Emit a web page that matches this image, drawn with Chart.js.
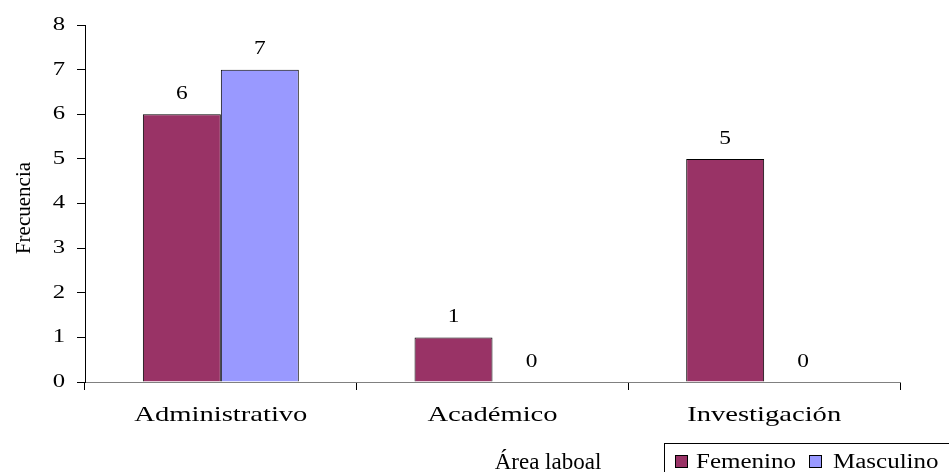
<!DOCTYPE html>
<html>
<head>
<meta charset="utf-8">
<script src="https://cdn.jsdelivr.net/npm/chart.js@4.4.1/dist/chart.umd.min.js"></script>
<style>
  html, body { margin: 0; padding: 0; background: #fff; overflow: hidden; }
  #wrap { width: 949px; height: 472px; position: relative; }
</style>
</head>
<body>
<div id="wrap"><canvas id="chart"></canvas></div>
<script>
// Data
const categories = ['Administrativo', 'Académico', 'Investigación'];
const seriesNames = ['Femenino', 'Masculino'];
const femenino = [6, 1, 5];
const masculino = [7, 0, 0];
const yMin = 0, yMax = 8, yStep = 1;
const xTitle = 'Área laboal';
const yTitle = 'Frecuencia';

// Styling
const SERIF = "'Liberation Serif', 'Times New Roman', serif";
const COLORS = ['#993366', '#9999FF'];
// Per font size: horizontal glyph widening and extra letter spacing (px)
const TEXT_LOOK = {
  18: { scale: 1.3, spacing: 0 },   // value labels
  19: { scale: 1.3, spacing: 0 },   // y ticks
  20: { scale: 1.25, spacing: 0 },  // legend
  22: { scale: 1.3, spacing: 0 },   // category labels
  21: { scale: 1.0, spacing: 0 },   // y title
  23: { scale: 1.0, spacing: 0 }    // x title
};

// Apply glyph widening / letter spacing to every text the chart draws
const textLook = {
  id: 'textLook',
  beforeInit(chart) {
    const ctx = chart.ctx;
    const orig = ctx.fillText.bind(ctx);
    ctx.fillText = function (text, x, y, maxWidth) {
      const m = /(\d+(?:\.\d+)?)px/.exec(ctx.font);
      const look = m ? TEXT_LOOK[Math.round(+m[1])] : null;
      if (!look) {
        return maxWidth === undefined ? orig(text, x, y) : orig(text, x, y, maxWidth);
      }
      const sp = look.spacing;
      let ax = x;
      if (sp) {
        if (ctx.textAlign === 'center') ax += sp / 2;
        else if (ctx.textAlign === 'right' || ctx.textAlign === 'end') ax += sp;
      }
      const t = ctx.getTransform();
      const px = t.a * ax + t.c * y + t.e;
      const py = t.b * ax + t.d * y + t.f;
      ctx.save();
      ctx.letterSpacing = sp + 'px';
      if (look.scale !== 1) {
        ctx.setTransform(new DOMMatrix().translate(px, py).scale(look.scale, 1).translate(-px, -py).multiply(t));
      }
      orig(text, ax, y);
      ctx.restore();
    };
  }
};

// Value labels above each bar
const valueLabels = {
  id: 'valueLabels',
  afterDatasetsDraw(chart) {
    const ctx = chart.ctx;
    ctx.save();
    ctx.font = `18px ${SERIF}`;
    ctx.fillStyle = '#000';
    ctx.textAlign = 'center';
    ctx.textBaseline = 'middle';
    chart.data.datasets.forEach((ds, i) => {
      chart.getDatasetMeta(i).data.forEach((bar, j) => {
        ctx.fillText(String(ds.data[j]), bar.x, bar.y - 20);
      });
    });
    ctx.restore();
  }
};

// Axis titles and the boxed legend in the lower right
const footer = {
  id: 'footer',
  afterDraw(chart) {
    const ctx = chart.ctx;
    ctx.save();
    ctx.fillStyle = '#000';

    // vertical axis title
    ctx.save();
    ctx.translate(24, 208);
    ctx.rotate(-Math.PI / 2);
    ctx.font = `21px ${SERIF}`;
    ctx.textAlign = 'center';
    ctx.textBaseline = 'middle';
    ctx.fillText(yTitle, 0, 0);
    ctx.restore();

    // horizontal axis title
    ctx.textBaseline = 'alphabetic';
    ctx.textAlign = 'center';
    ctx.font = `23px ${SERIF}`;
    ctx.fillText(xTitle, 548, 469);

    // legend frame
    ctx.strokeStyle = '#000';
    ctx.lineWidth = 1;
    ctx.strokeRect(664.5, 443.5, 320, 60);

    ctx.font = `20px ${SERIF}`;
    ctx.textAlign = 'left';
    const items = [
      { sq: 675, tx: 696 },
      { sq: 809, tx: 833 }
    ];
    chart.data.datasets.forEach((ds, i) => {
      const it = items[i];
      ctx.fillStyle = ds.backgroundColor;
      ctx.fillRect(it.sq + 0.5, 455.5, 12, 12);
      ctx.strokeRect(it.sq + 0.5, 455.5, 12, 12);
      ctx.fillStyle = '#000';
      ctx.fillText(ds.label, it.tx, 468);
    });
    ctx.restore();
  }
};

new Chart(document.getElementById('chart'), {
  type: 'bar',
  data: {
    labels: categories,
    datasets: [
      { label: seriesNames[0], data: femenino, backgroundColor: COLORS[0], borderColor: '#000', borderWidth: 1 },
      { label: seriesNames[1], data: masculino, backgroundColor: COLORS[1], borderColor: '#000', borderWidth: 1 }
    ]
  },
  options: {
    responsive: true,
    maintainAspectRatio: false,
    animation: false,
    devicePixelRatio: 1,
    layout: { padding: { left: 0, right: 49, top: 25, bottom: 0 } },
    datasets: { bar: { categoryPercentage: 0.574, barPercentage: 1.0 } },
    plugins: {
      legend: { display: false },
      tooltip: { enabled: false }
    },
    scales: {
      x: {
        afterFit(s) { s.height = 90; },
        border: { display: true, color: '#808080', width: 1 },
        grid: { display: true, drawOnChartArea: false, drawTicks: true, tickLength: 8, color: '#000', offset: true },
        ticks: {
          color: '#000',
          font: { family: SERIF, size: 22 },
          padding: 12,
          autoSkip: false,
          maxRotation: 0
        }
      },
      y: {
        min: yMin,
        max: yMax,
        afterFit(s) { s.width = 85; },
        border: { display: true, color: '#000', width: 1 },
        grid: { display: true, drawOnChartArea: false, drawTicks: true, tickLength: 8, color: '#000' },
        ticks: {
          stepSize: yStep,
          color: '#000',
          font: { family: SERIF, size: 19 },
          padding: 12
        }
      }
    }
  },
  plugins: [textLook, valueLabels, footer]
});
</script>
</body>
</html>
